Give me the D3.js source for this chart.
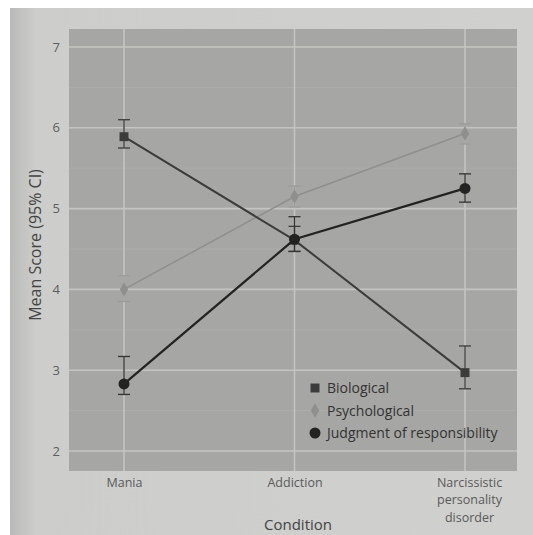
<!DOCTYPE html>
<html><head><meta charset="utf-8">
<script src="https://cdn.jsdelivr.net/npm/d3@7"></script>
<style>body{margin:0;background:#fff}svg{display:block}</style>
</head><body>
<script>
const categories = ["Mania", "Addiction", "Narcissistic personality disorder"];
const categoryLines = [["Mania"], ["Addiction"], ["Narcissistic", "personality", "disorder"]];
const seriesNames = ["Biological", "Psychological", "Judgment of responsibility"];
const biological = [5.89, 4.61, 2.97];
const biologicalLow = [5.75, 4.47, 2.77];
const biologicalHigh = [6.1, 4.78, 3.3];
const psychological = [4.0, 5.15, 5.93];
const psychologicalLow = [3.85, 5.02, 5.8];
const psychologicalHigh = [4.17, 5.28, 6.05];
const judgment = [2.83, 4.62, 5.25];
const judgmentLow = [2.7, 4.47, 5.08];
const judgmentHigh = [3.17, 4.9, 5.43];
const yTicks = [2, 3, 4, 5, 6, 7];
const yTitle = "Mean Score (95% CI)";
const xTitle = "Condition";

const W = 533, H = 535;
const svg = d3.select("body").append("svg").attr("width", W).attr("height", H);
svg.append("rect").attr("width", W).attr("height", H).attr("fill", "#ffffff");
const defs = svg.append("defs");
const lg = defs.append("linearGradient").attr("id", "paper").attr("x1", 0).attr("x2", 1).attr("y1", 0).attr("y2", 0);
lg.append("stop").attr("offset", "0").attr("stop-color", "#b9b9b7");
lg.append("stop").attr("offset", "0.05").attr("stop-color", "#cdcdcb");
lg.append("stop").attr("offset", "1").attr("stop-color", "#d0d0ce");
svg.append("rect").attr("x", 10).attr("y", 8).attr("width", W - 10).attr("height", H - 8).attr("fill", "url(#paper)");

const panel = {left: 69, right: 517, top: 29, bottom: 471};
const x = d3.scalePoint().domain(categories).range([124, 465]);
const y = d3.scaleLinear().domain([2, 7]).range([451, 47]);

const g = svg.append("g");
g.append("rect").attr("x", panel.left).attr("y", panel.top)
  .attr("width", panel.right - panel.left).attr("height", panel.bottom - panel.top)
  .attr("fill", "#a6a6a4");
const minor = d3.range(2.5, 7.5, 1);
g.selectAll(".ming").data(minor).join("line")
  .attr("x1", panel.left).attr("x2", panel.right)
  .attr("y1", d => y(d)).attr("y2", d => y(d))
  .attr("stroke", "#adadab").attr("stroke-width", 1);
g.selectAll(".hg").data(yTicks).join("line")
  .attr("x1", panel.left).attr("x2", panel.right)
  .attr("y1", d => y(d)).attr("y2", d => y(d))
  .attr("stroke", "#c4c4c2").attr("stroke-width", 1.6);
g.selectAll(".vg").data(categories).join("line")
  .attr("x1", d => x(d)).attr("x2", d => x(d))
  .attr("y1", panel.top).attr("y2", panel.bottom)
  .attr("stroke", "#c4c4c2").attr("stroke-width", 1.6);

const yAxis = d3.axisLeft(y).tickValues(yTicks).tickFormat(d3.format("d")).tickSize(0).tickPadding(9);
const ya = svg.append("g").attr("transform", `translate(${panel.left},0)`).call(yAxis);
ya.select(".domain").remove();
ya.selectAll("text").attr("font-family", "Open Sans").attr("font-size", 13).attr("fill", "#5e5e5e");

const xa = svg.append("g").attr("transform", `translate(0,${panel.bottom})`)
  .call(d3.axisBottom(x).tickSize(0).tickFormat(""));
xa.select(".domain").remove();
xa.selectAll(".tick").each(function(d, i) {
  const t = d3.select(this).append("text").attr("text-anchor", "middle")
    .attr("font-family", "Open Sans").attr("font-size", 12.5).attr("fill", "#5a5a5a");
  categoryLines[i].forEach((s, j) => t.append("tspan").attr("x", i === 2 ? 4 : 0).attr("y", 16 + j * 17.3).text(s));
});

svg.append("text").attr("transform", `translate(41,${(panel.top + panel.bottom) / 2 - 5}) rotate(-90)`)
  .attr("text-anchor", "middle").attr("font-family", "Open Sans").attr("font-size", 16)
  .attr("fill", "#444").text(yTitle);
svg.append("text").attr("x", (panel.left + panel.right) / 2 + 5).attr("y", 530)
  .attr("text-anchor", "middle").attr("font-family", "Open Sans").attr("font-size", 15)
  .attr("fill", "#444").text(xTitle);

const series = [
  {name: seriesNames[1], v: psychological, lo: psychologicalLow, hi: psychologicalHigh, color: "#8f8f8d", width: 1.5, shape: d3.symbolDiamond, size: 60, ebColor: "#9c9c9a"},
  {name: seriesNames[0], v: biological, lo: biologicalLow, hi: biologicalHigh, color: "#3c3c3c", width: 2, shape: d3.symbolSquare, size: 80, ebColor: "#3c3c3c"},
  {name: seriesNames[2], v: judgment, lo: judgmentLow, hi: judgmentHigh, color: "#232323", width: 2.2, shape: d3.symbolCircle, size: 95, ebColor: "#333"}
];
const line = d3.line().x((d, i) => x(categories[i])).y(d => y(d));
series.forEach(s => {
  const sg = g.append("g");
  sg.append("path").datum(s.v).attr("d", line).attr("fill", "none")
    .attr("stroke", s.color).attr("stroke-width", s.width);
  const eb = sg.selectAll(".eb").data(categories).join("g");
  eb.append("line").attr("x1", d => x(d)).attr("x2", d => x(d))
    .attr("y1", (d, i) => y(s.lo[i])).attr("y2", (d, i) => y(s.hi[i]))
    .attr("stroke", s.ebColor).attr("stroke-width", 1.3);
  [s.lo, s.hi].forEach(arr => {
    eb.append("line").attr("x1", d => x(d) - 6).attr("x2", d => x(d) + 6)
      .attr("y1", (d, i) => y(arr[i])).attr("y2", (d, i) => y(arr[i]))
      .attr("stroke", s.ebColor).attr("stroke-width", 1.3);
  });
  sg.selectAll(".pt").data(s.v).join("path")
    .attr("transform", (d, i) => `translate(${x(categories[i])},${y(d)})`)
    .attr("d", d3.symbol().type(s.shape).size(s.size)).attr("fill", s.color);
});

const legend = svg.append("g").attr("transform", "translate(315,388)");
const ordered = seriesNames.map(n => series.find(s => s.name === n));
ordered.forEach((s, i) => {
  const it = legend.append("g").attr("transform", `translate(0,${i * 22.5})`);
  it.append("path").attr("d", d3.symbol().type(s.shape).size(s.size)).attr("fill", s.color);
  it.append("text").attr("x", 12).attr("y", 5).attr("font-family", "Open Sans").attr("font-size", 14)
    .attr("fill", "#333").text(s.name);
});
</script>
</body></html>
